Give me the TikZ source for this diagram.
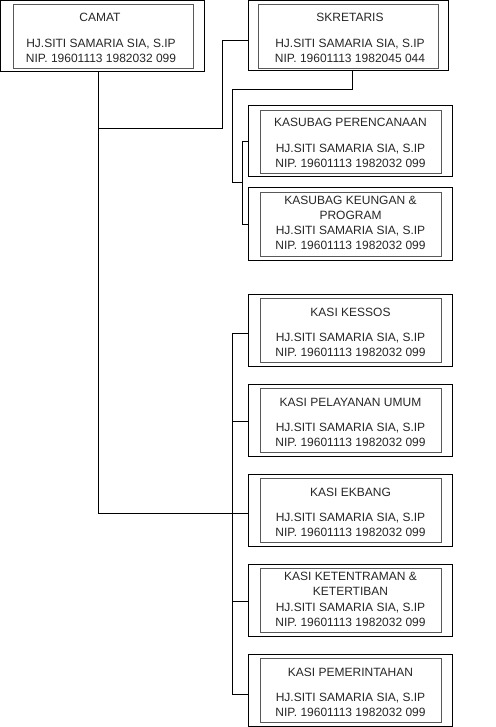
\documentclass[tikz,border=0pt]{standalone}
\usepackage{fontspec}
\setmainfont{Liberation Sans}
\usetikzlibrary{fit,calc}
\tikzset{
  outerbox/.style={draw=black, line width=1pt, inner sep=0pt},
  innerbox/.style={draw=black!65, line width=0.9pt, inner sep=0pt},
  lbl/.style={font=\fontsize{12}{15}\selectfont, text=black!85, align=center, inner sep=0pt},
  conn/.style={draw=black, line width=1pt}
}
% name, x1, y1, x2, y2, inner x1, y1, x2, y2, title, body
\newcommand\orgunit[7]{%
  \node[outerbox, fit={(#2,#3) (#4,#5)}] (#1) {};
  \node[innerbox, fit={(#2+12,#3+4) (#4-11,#5-4)}] (#1in) {};
  \node[lbl, anchor=center] (#1t) at ($(#1in.center)+(0,#6)$) {#7};
}
\begin{document}
\begin{tikzpicture}[x=1pt,y=-1pt]
\useasboundingbox (0,0) rectangle (495,727);
% CAMAT
\node[outerbox, fit={(0.5,0.5) (204,72)}] (camat) {};
\node[innerbox, fit={(13,4.5) (193,68)}] (camatin) {};
\node[lbl] (camatt) at (100,17) {CAMAT};
\node[lbl] (camatb) at (101,50.5) {HJ.SITI SAMARIA SIA, S.IP\\NIP. 19601113 1982032 099};
% SKRETARIS
\node[outerbox, fit={(248,1) (448,71)}] (sk) {};
\node[innerbox, fit={(258,4.5) (438,68)}] (skin) {};
\node[lbl] (skt) at (350,17) {SKRETARIS};
\node[lbl] (skb) at (350,50.5) {HJ.SITI SAMARIA SIA, S.IP\\NIP. 19601113 1982045 044};
% lower units
\orgunit{kp}{248}{106}{452}{177}{-19}{KASUBAG PERENCANAAN}
\node[lbl] (kpb) at ($(kpin.center)+(0,14)$) {HJ.SITI SAMARIA SIA, S.IP\\NIP. 19601113 1982032 099};
\orgunit{kk}{248}{188}{452}{260}{-16.5}{KASUBAG KEUNGAN \&\\PROGRAM}
\node[lbl] (kkb) at ($(kkin.center)+(0,14)$) {HJ.SITI SAMARIA SIA, S.IP\\NIP. 19601113 1982032 099};
\orgunit{kes}{248}{294}{452}{366}{-18}{KASI KESSOS}
\node[lbl] (kesb) at ($(kesin.center)+(0,15)$) {HJ.SITI SAMARIA SIA, S.IP\\NIP. 19601113 1982032 099};
\orgunit{pu}{248}{384}{452}{456}{-18}{KASI PELAYANAN UMUM}
\node[lbl] (pub) at ($(puin.center)+(0,15)$) {HJ.SITI SAMARIA SIA, S.IP\\NIP. 19601113 1982032 099};
\orgunit{ek}{248}{474}{452}{546}{-18}{KASI EKBANG}
\node[lbl] (ekb) at ($(ekin.center)+(0,15)$) {HJ.SITI SAMARIA SIA, S.IP\\NIP. 19601113 1982032 099};
\orgunit{kt}{248}{564}{452}{636}{-16}{KASI KETENTRAMAN \&\\KETERTIBAN}
\node[lbl] (ktb) at ($(ktin.center)+(0,14.5)$) {HJ.SITI SAMARIA SIA, S.IP\\NIP. 19601113 1982032 099};
\orgunit{pem}{248}{654}{452}{726}{-18}{KASI PEMERINTAHAN}
\node[lbl] (pemb) at ($(pemin.center)+(0,15)$) {HJ.SITI SAMARIA SIA, S.IP\\NIP. 19601113 1982032 099};
% connectors
\coordinate (camdown) at ($(camat.south)+(-4.25,0)$);
\coordinate (skdown) at ($(sk.south)+(4,0)$);
\draw[conn] (camdown) -- ++(0,56) -| (222,41) -- ([yshift=-5pt]sk.west);
\draw[conn] (camdown) |- ([yshift=-3pt]ek.west);
\draw[conn] (skdown) -- ++(0,18) -| (232,183) -- (243,183);
\draw[conn] (kp.west) -- ++(-5,0) |- (kk.west);
\draw[conn] ([yshift=-3pt]kes.west) -- ++(-15,0) |- ([yshift=-4pt]pem.west);
\draw[conn] ([yshift=-1pt]pu.west) -- ++(-15,0);
\draw[conn] ([yshift=-1pt]kt.west) -- ++(-15,0);
\end{tikzpicture}
\end{document}
